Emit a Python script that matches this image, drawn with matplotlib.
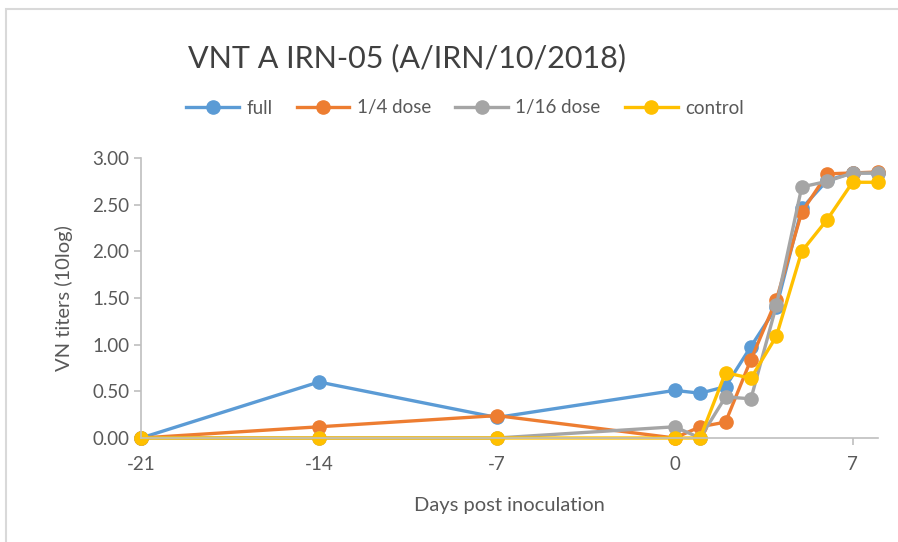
import numpy as np
import matplotlib
matplotlib.use("Agg")
import matplotlib.pyplot as plt
from matplotlib.patches import Rectangle

plt.rcParams['font.family'] = ['Lato', 'DejaVu Sans']
plt.rcParams['axes.unicode_minus'] = False

days = [-21, -14, -7, 0, 1, 2, 3, 4, 5, 6, 7, 8]
full = [0.00, 0.60, 0.22, 0.51, 0.48, 0.55, 0.98, 1.40, 2.46, 2.76, 2.84, 2.84]
quarter = [0.00, 0.12, 0.24, 0.00, 0.12, 0.17, 0.84, 1.48, 2.42, 2.83, 2.84, 2.85]
sixteenth = [0.00, 0.00, 0.00, 0.12, 0.00, 0.44, 0.42, 1.42, 2.69, 2.75, 2.84, 2.84]
control = [0.00, 0.00, 0.00, 0.00, 0.00, 0.70, 0.64, 1.09, 2.00, 2.34, 2.74, 2.74]

series = [("full", full, "#5B9BD5"),
          ("1/4 dose", quarter, "#ED7D31"),
          ("1/16 dose", sixteenth, "#A5A5A5"),
          ("control", control, "#FFC000")]

fig = plt.figure(figsize=(8.98, 5.42), dpi=100)
ax = fig.add_axes([141/898, 1-438/542, (878-141)/898, (438-158)/542])

for name, vals, col in series:
    ax.plot(days, vals, color=col, lw=2.4, marker='o', ms=9.5, label=name,
            clip_on=False)

ax.set_xlim(-21, 8)
ax.set_ylim(0, 3)
ax.set_xticks([-21, -14, -7, 0, 7])
ax.set_yticks(np.arange(0, 3.01, 0.5))
ax.set_yticklabels(["%.2f" % v for v in np.arange(0, 3.01, 0.5)])
for s in ["top", "right"]:
    ax.spines[s].set_visible(False)
for s in ["left", "bottom"]:
    ax.spines[s].set_color("#BFBFBF")
    ax.spines[s].set_linewidth(1.2)
ax.tick_params(colors="#BFBFBF", labelcolor="#595959", labelsize=13.5,
               length=5, width=1.2)
ax.tick_params(axis='x', pad=8)
ax.set_xlabel("Days post inoculation", fontsize=14.5, color="#595959", labelpad=17)
ax.set_ylabel("VN titers (10log)", fontsize=14.5, color="#595959", labelpad=14)

fig.text(407/898, 1-58/542, "VNT A IRN-05 (A/IRN/10/2018)", fontsize=22,
         color="#404040", ha='center', va='center')
fig.legend(loc='center', bbox_to_anchor=(465/898, 1-108/542), ncol=4,
           frameon=False, fontsize=13.5, handlelength=2.8, columnspacing=1.3,
           handletextpad=0.4, labelcolor="#595959")

fig.patches.append(Rectangle((6/898, -0.1), 1.2, 1-9/542+0.1,
                             transform=fig.transFigure, fill=False,
                             edgecolor="#D9D9D9", lw=1.5))
fig.savefig("out.png", dpi=100)
